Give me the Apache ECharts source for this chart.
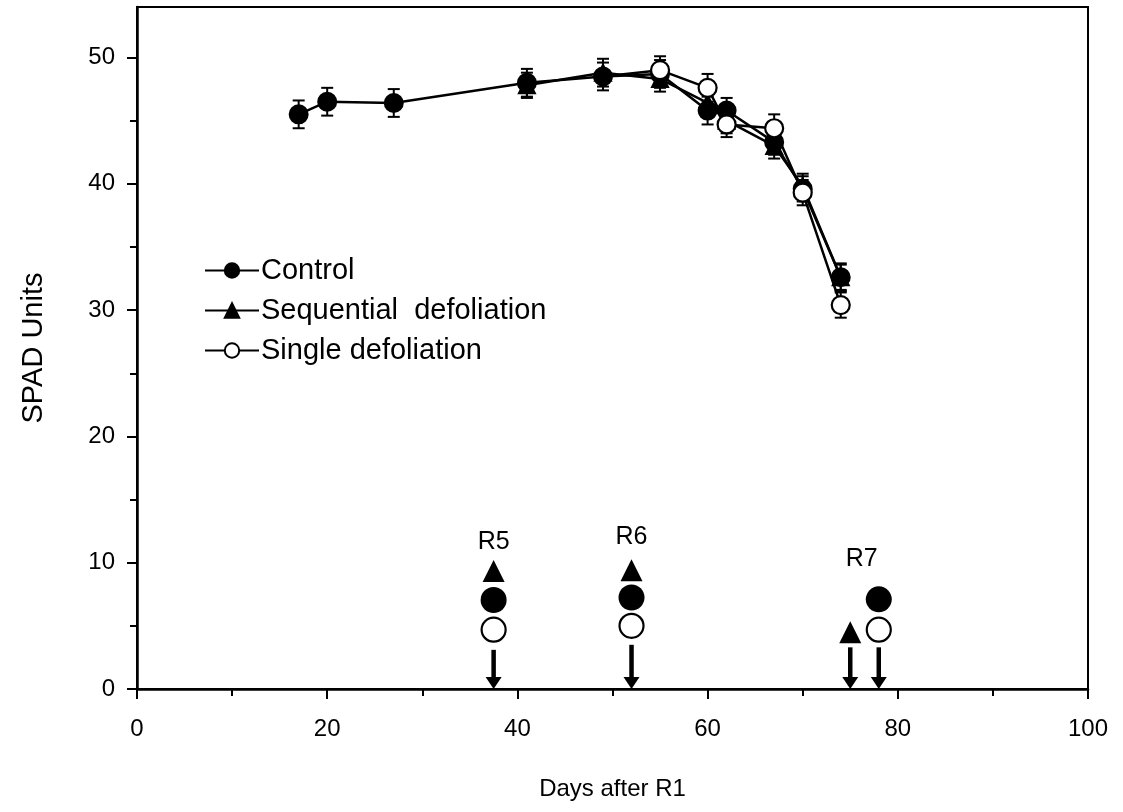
<!DOCTYPE html>
<html>
<head>
<meta charset="utf-8">
<script src="https://cdn.jsdelivr.net/npm/echarts@6/dist/echarts.min.js"></script>
<style>
  html, body { margin: 0; padding: 0; background: #fff; }
  #chart { width: 1123px; height: 812px; }
</style>
</head>
<body>
<div id="chart"></div>
<script>
// SPAD readings (mean ± error) by days after R1
const controlDays = [17, 20, 27, 41, 49, 55, 60, 62, 67, 70, 74];
const controlSpad = [45.5, 46.5, 46.4, 48.0, 48.5, 48.7, 45.8, 45.8, 43.3, 39.6, 32.6];
const controlErr  = [1.1, 1.1, 1.1, 1.1, 1.1, 1.1, 1.1, 1.0, 1.0, 1.0, 1.1];

const sequentialDays = [41, 49, 55, 60, 62, 67, 70, 74];
const sequentialSpad = [47.8, 48.8, 48.3, 46.4, 45.0, 43.0, 39.8, 32.6];
const sequentialErr  = [1.0, 1.1, 1.0, 1.0, 1.0, 1.0, 1.0, 1.0];

// single defoliation branches off the control curve at day 49
const singleDays = [49, 55, 60, 62, 67, 70, 74];
const singleSpad = [48.5, 49.0, 47.6, 44.7, 44.4, 39.3, 30.4];
const singleErr  = [null, 1.1, 1.1, 1.0, 1.1, 1.0, 1.0];

// growth-stage annotations near the x axis
const stageLabelDays = [37.5, 52, 76.2];
const stageLabelY    = [11.65, 12.05, 10.25];
const stageLabels    = ['R5', 'R6', 'R7'];
const stageSeqMarks     = [[37.5, 9.35], [52, 9.4], [75, 4.5]];
const stageControlMarks = [[37.5, 7.05], [52, 7.25], [78, 7.1]];
const stageSingleMarks  = [[37.5, 4.7], [52, 5.0], [78, 4.7]];
const arrowDays   = [37.5, 52, 75, 78];
const arrowStartY = [3.1, 3.5, 3.3, 3.3];

const xTicks = [0, 20, 40, 60, 80, 100];
const yTicks = [0, 10, 20, 30, 40, 50];
const yMinorTicks = [5, 15, 25, 35, 45];

const FONT = "'Liberation Sans', Arial, sans-serif";
const zip = (a, b) => a.map((v, i) => [v, b[i]]);
const zip3 = (a, b, c) => a.map((v, i) => [v, b[i], c[i]]).filter(d => d[2] != null);

function errorBar(params, api) {
  const x = api.value(0), y = api.value(1), e = api.value(2);
  const t = api.coord([x, y + e]);
  const b = api.coord([x, y - e]);
  const w = 6;
  const st = { stroke: '#000', lineWidth: 2 };
  return {
    type: 'group',
    children: [
      { type: 'line', shape: { x1: t[0], y1: t[1], x2: b[0], y2: b[1] }, style: st },
      { type: 'line', shape: { x1: t[0] - w, y1: t[1], x2: t[0] + w, y2: t[1] }, style: st },
      { type: 'line', shape: { x1: b[0] - w, y1: b[1], x2: b[0] + w, y2: b[1] }, style: st }
    ]
  };
}

function downArrow(params, api) {
  const x = api.value(0), y0 = api.value(1);
  const p0 = api.coord([x, y0]);
  const p1 = api.coord([x, 0]);
  const headH = 12, headW = 8;
  return {
    type: 'group',
    children: [
      { type: 'line', shape: { x1: p0[0], y1: p0[1], x2: p1[0], y2: p1[1] - headH + 1 },
        style: { stroke: '#000', lineWidth: 4.5 } },
      { type: 'polygon', shape: { points: [[p1[0] - headW, p1[1] - headH], [p1[0] + headW, p1[1] - headH], [p1[0], p1[1]]] },
        style: { fill: '#000' } }
    ]
  };
}

const chart = echarts.init(document.getElementById('chart'), null, { renderer: 'canvas' });

const lineCommon = {
  type: 'line',
  xAxisIndex: 0,
  yAxisIndex: 0,
  lineStyle: { color: '#000', width: 2.5 },
  itemStyle: { color: '#000', borderColor: '#000', borderWidth: 2, opacity: 1 },
  emphasis: { disabled: true },
  animation: false
};

chart.setOption({
  animation: false,
  backgroundColor: '#fff',
  textStyle: { fontFamily: FONT, color: '#000' },
  grid: {
    left: 137, right: 35, top: 7, bottom: 123,
    show: true, borderColor: '#000', borderWidth: 2, backgroundColor: 'transparent'
  },
  legend: {
    orient: 'vertical',
    left: 199, top: 251,
    itemWidth: 54, itemHeight: 18, itemGap: 11,
    textStyle: { fontFamily: FONT, fontSize: 29, color: '#000', padding: [0, 0, 0, -3] },
    data: ['Control', 'Sequential  defoliation', 'Single defoliation']
  },
  xAxis: {
    type: 'value', min: 0, max: 100, interval: 20,
    name: 'Days after R1', nameLocation: 'middle', nameGap: 88,
    nameTextStyle: { fontFamily: FONT, fontSize: 24, color: '#000' },
    axisLine: { show: true, onZero: false, lineStyle: { color: '#000', width: 2.5 } },
    axisTick: { show: true, inside: false, length: 10, lineStyle: { color: '#000', width: 2 } },
    minorTick: { show: true, splitNumber: 2, length: 7, lineStyle: { color: '#000', width: 2 } },
    axisLabel: { fontFamily: FONT, fontSize: 24, color: '#000', margin: 28,
      customValues: xTicks },
    splitLine: { show: false }, minorSplitLine: { show: false }
  },
  yAxis: [{
    type: 'value', min: 0, max: 54,
    name: 'SPAD Units', nameLocation: 'middle', nameGap: 89, nameRotate: 90,
    nameTextStyle: { fontFamily: FONT, fontSize: 29, color: '#000' },
    axisLine: { show: true, onZero: false, lineStyle: { color: '#000', width: 2.5 } },
    axisTick: { show: true, inside: false, length: 10, lineStyle: { color: '#000', width: 2 },
      customValues: yTicks },
    axisLabel: { fontFamily: FONT, fontSize: 24, color: '#000', margin: 22,
      customValues: yTicks },
    splitLine: { show: false }
  }, {
    // minor ticks on the y axis
    type: 'value', min: 0, max: 54, position: 'left', offset: 0,
    axisLine: { show: false },
    axisTick: { show: true, inside: false, length: 7, lineStyle: { color: '#000', width: 2 },
      customValues: yMinorTicks },
    axisLabel: { show: false },
    splitLine: { show: false }
  }],
  series: [
    // error bars (drawn beneath the markers)
    { type: 'custom', name: 'err-control', renderItem: errorBar, data: zip3(controlDays, controlSpad, controlErr),
      encode: { x: 0, y: 1 }, z: 1, silent: true },
    { type: 'custom', name: 'err-seq', renderItem: errorBar, data: zip3(sequentialDays, sequentialSpad, sequentialErr),
      encode: { x: 0, y: 1 }, z: 1, silent: true },
    { type: 'custom', name: 'err-single', renderItem: errorBar, data: zip3(singleDays, singleSpad, singleErr),
      encode: { x: 0, y: 1 }, z: 1, silent: true },

    Object.assign({}, lineCommon, {
      name: 'Control', z: 3,
      symbol: 'circle', symbolSize: 18,
      data: zip(controlDays, controlSpad)
    }),
    Object.assign({}, lineCommon, {
      name: 'Sequential  defoliation', z: 4,
      symbol: 'triangle', symbolSize: 16,
      data: zip(sequentialDays, sequentialSpad)
    }),
    Object.assign({}, lineCommon, {
      name: 'Single defoliation', z: 5,
      // first point is the shared branching point, drawn by the control marker
      symbol: (val, p) => (p.dataIndex === 0 ? 'none' : 'circle'),
      symbolSize: 18,
      showAllSymbol: true,
      itemStyle: { color: '#fff', borderColor: '#000', borderWidth: 2.2, opacity: 1 },
      data: zip(singleDays, singleSpad)
    }),

    // stage annotations
    { type: 'scatter', name: 'stage-seq', symbol: 'triangle', symbolSize: [22, 22],
      itemStyle: { color: '#000', opacity: 1 }, data: stageSeqMarks, z: 6, silent: true },
    { type: 'scatter', name: 'stage-control', symbol: 'circle', symbolSize: 26,
      itemStyle: { color: '#000', opacity: 1 }, data: stageControlMarks, z: 6, silent: true },
    { type: 'scatter', name: 'stage-single', symbol: 'circle', symbolSize: 24,
      itemStyle: { color: '#fff', borderColor: '#000', borderWidth: 2.2, opacity: 1 },
      data: stageSingleMarks, z: 6, silent: true },
    { type: 'custom', name: 'stage-arrows', renderItem: downArrow,
      data: zip(arrowDays, arrowStartY), encode: { x: 0, y: 1 }, z: 6, silent: true },
    { type: 'scatter', name: 'stage-labels', symbolSize: 0, silent: true, z: 6,
      itemStyle: { opacity: 1 },
      data: stageLabelDays.map((d, i) => ({ value: [d, stageLabelY[i]], name: stageLabels[i] })),
      label: { show: true, position: 'inside', formatter: '{b}',
        fontFamily: FONT, fontSize: 25, color: '#000', opacity: 1 } }
  ]
});
</script>
</body>
</html>
